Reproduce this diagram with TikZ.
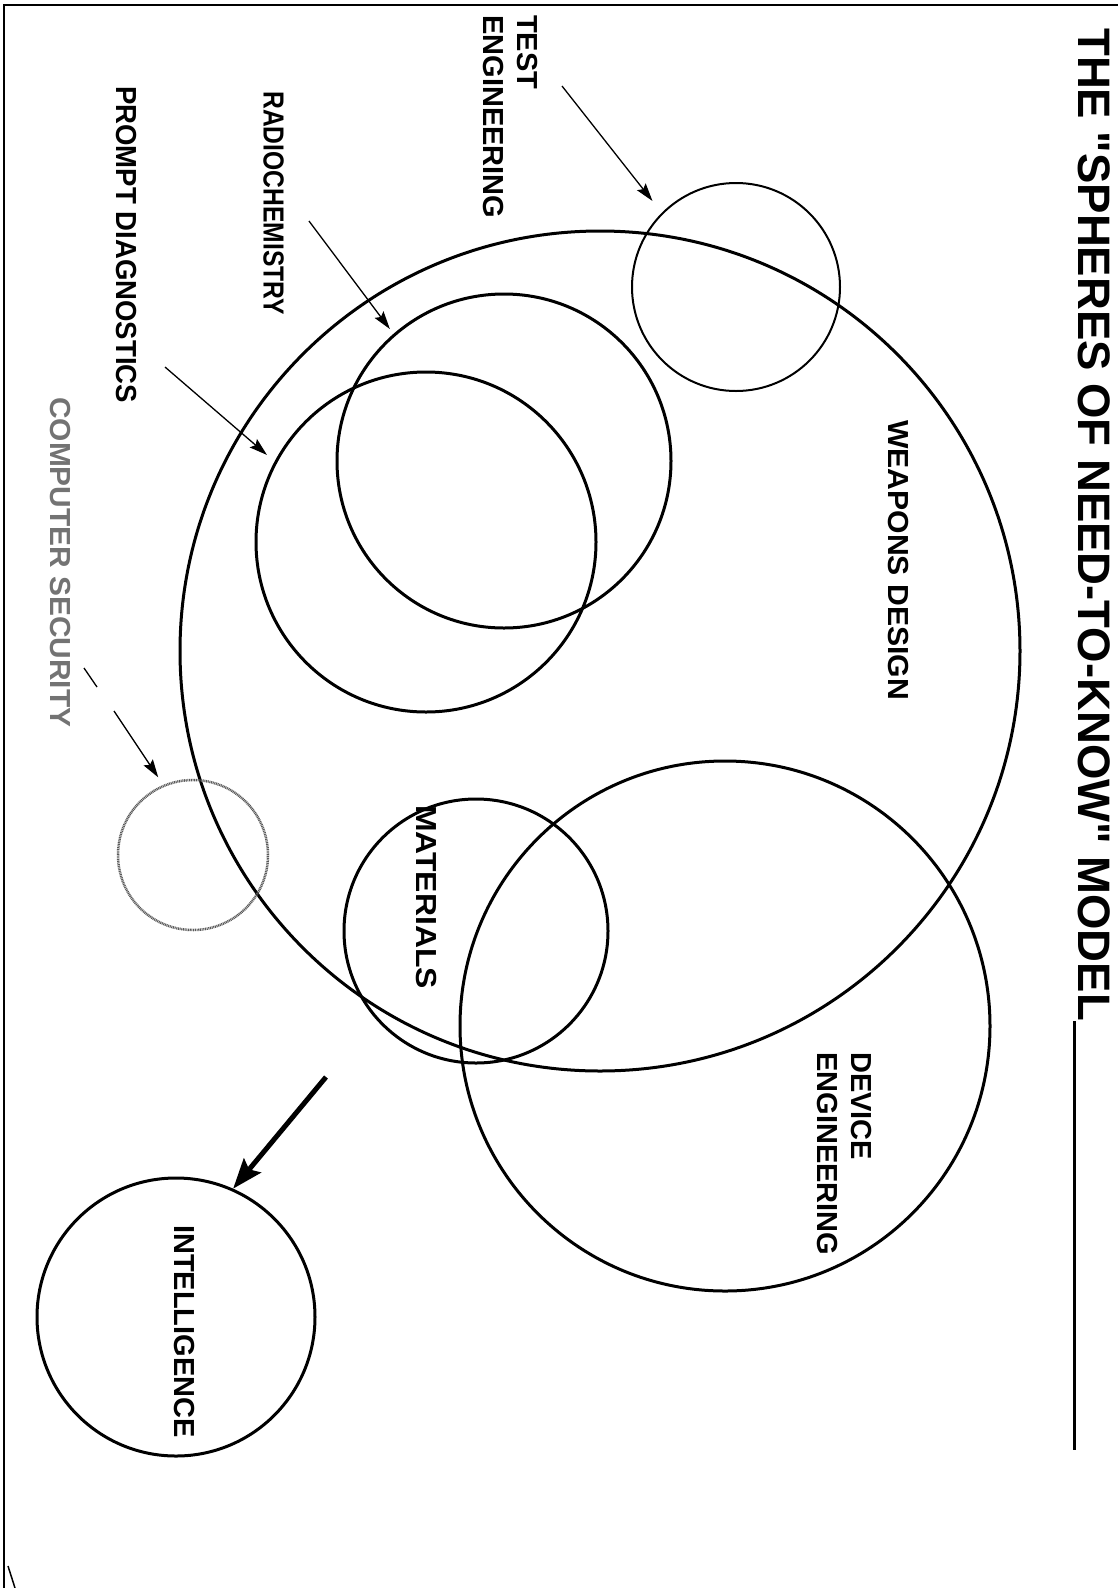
\documentclass[tikz,border=0pt]{standalone}
\usepackage{fontspec}
\setmainfont{Liberation Sans}
\usetikzlibrary{arrows.meta,positioning}

\begin{document}
\begin{tikzpicture}[x=1pt,y=-1pt,
  sphere/.style={draw, circle, line width=3pt, inner sep=0pt},
  lbl/.style={font=\fontsize{29}{34}\selectfont\bfseries, rotate=-90,
    inner sep=0pt, align=left, anchor=north west},
  pointer/.style={line width=1.3pt, -{Stealth[length=18pt,width=11pt,inset=3pt]}},
  bigarrow/.style={line width=5pt, -{Stealth[length=30pt,width=22pt,inset=5pt]}}]
\useasboundingbox (0,0) rectangle (1118,1588);

% frame of the page
\draw[line width=2.5pt] (4,1588) -- (4,5) -- (1118,5);
\coordinate (markA) at (8,1566);
\coordinate (markB) at (15,1588);
\draw[line width=1.5pt] (markA) -- (markB);

% title
\node[lbl, font=\fontsize{45.5}{50}\selectfont\bfseries] (title) at (1110,28)
  {THE \textquotedbl SPHERES OF NEED-TO-KNOW\textquotedbl{} MODEL};
\coordinate (ulA) at (1074,1021);
\coordinate (ulB) at (1074,1450);
\draw[line width=3pt] (ulA) -- (ulB);

% spheres
\node[sphere, minimum size=840pt] (weapons) at (600,651) {};
\node[sphere, line width=2pt, minimum size=208pt] (test) at (736,287) {};
\node[sphere, minimum size=334pt] (radio) at (504,461) {};
\node[sphere, minimum size=340pt] (prompt) at (426,542) {};
\node[sphere, minimum size=264pt] (materials) at (476,931) {};
\node[sphere, minimum size=530pt] (device) at (725,1026) {};
\node[sphere, draw=black!65, line width=2.5pt, dash pattern=on 1pt off 0.7pt,
  minimum size=150pt] (compsec) at (193,855) {};
\node[sphere, minimum size=278pt] (intel) at (176,1317) {};

% labels
\node[lbl] (testlbl) at (538,15) {TEST\\ENGINEERING};
\node[lbl] (radiolbl) at (284,91) {\scalebox{0.85}[1]{RADIOCHEMISTRY}};
\node[lbl] (promptlbl) at (137,86) {\scalebox{0.95}[1]{PROMPT DIAGNOSTICS}};
\node[lbl, text=black!55] (compseclbl) at (71,397)
  {\scalebox{1.03}[1]{COMPUTER SECURITY}};
\node[lbl] (weaponslbl) at (909,420) {\scalebox{1.04}[1]{WEAPONS DESIGN}};
\node[lbl] (materialslbl) at (437,805) {\scalebox{1.1}[1]{MATERIALS}};
\node[lbl] (devicelbl) at (872,1052) {DEVICE\\ENGINEERING};
\node[lbl] (intellbl) at (195,1225) {INTELLIGENCE};

% pointers
\coordinate (testtail) at (562,86);
\draw[pointer, shorten >=15pt] (testtail) -- (test.135);
\coordinate (radiotail) at (309,221);
\draw[pointer, shorten >=6pt] (radiotail) -- (radio.131);
\coordinate (prompttail) at (165,367);
\draw[pointer, shorten >=10pt] (prompttail) -- (prompt.152);
\coordinate (dashA) at (84,668);
\coordinate (dashB) at (97,687);
\draw[line width=1.3pt] (dashA) -- (dashB);
\coordinate (compsectail) at (114,711);
\draw[pointer, shorten >=9pt] (compsectail) -- (compsec.113);

% weapons design feeds intelligence
\coordinate (feedtail) at (326,1077);
\draw[bigarrow] (feedtail) -- (intel.66);
\end{tikzpicture}
\end{document}
